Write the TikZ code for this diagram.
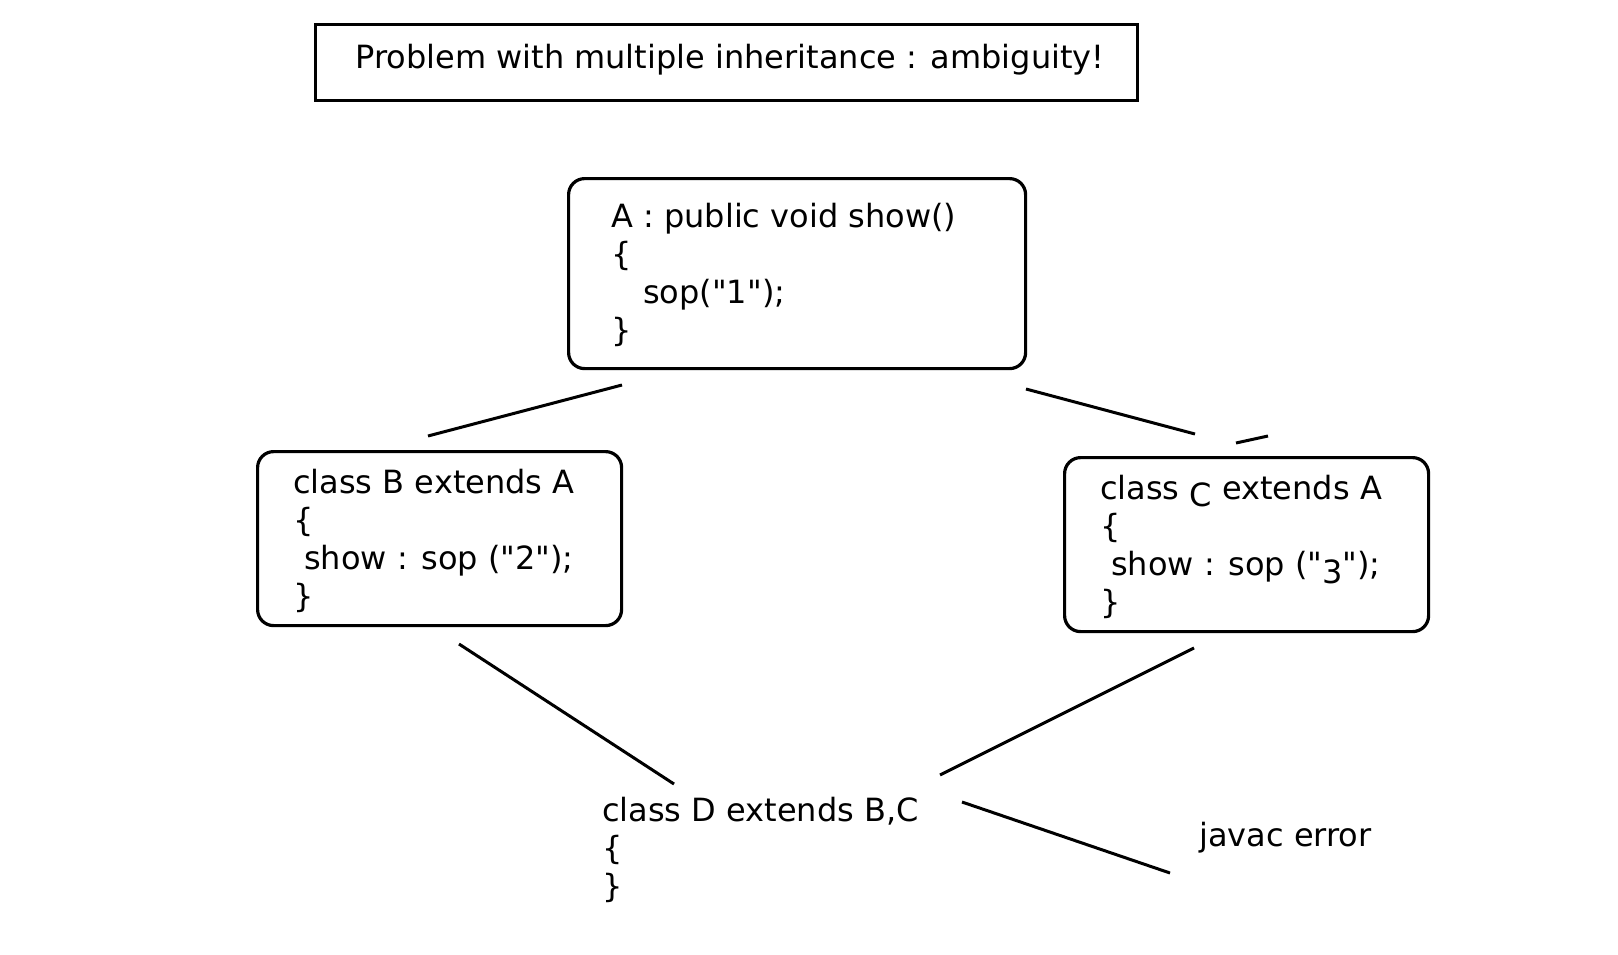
\documentclass[tikz,border=0pt]{standalone}
\usepackage{fontspec}
\setmainfont{DejaVu Sans}[Ligatures=TeXOff]
\begin{document}
\begin{tikzpicture}[x=1pt,y=-1pt,
  titlebox/.style={draw, line width=3.2pt, minimum width=822pt, minimum height=76pt, anchor=north west, inner sep=0pt},
  classbox/.style={draw, line width=3.2pt, rounded corners=16pt, anchor=north west, inner sep=0pt},
  code/.style={font=\fontsize{32}{38}\selectfont, align=left, anchor=base west, inner sep=0pt},
  link/.style={line width=3pt}]
\useasboundingbox (0,0) rectangle (1618,954);
% title
\node[titlebox] (title) at (314,23) {};
\node[code, anchor=center] (titletext) at (730,60) {Problem with multiple inheritance : ambiguity!};
% boxes (text nodes: anchor is the baseline of the last line)
\node[classbox, minimum width=457pt, minimum height=190pt] (A) at (567,177) {};
\node[code] (Atext) at (611,341) {A : public void show()\\\{\\\hspace*{32pt}sop("1");\\\}};
\node[classbox, minimum width=364pt, minimum height=174pt] (B) at (256,450) {};
\node[code] (Btext) at (293,607) {class B extends A\\\{\\\hspace*{11pt}show : sop ("2");\\\}};
\node[classbox, minimum width=364pt, minimum height=174pt] (C) at (1063,456) {};
\node[code] (Ctext) at (1100,613) {class \raisebox{-7pt}{C} extends A\\\{\\\hspace*{11pt}show : sop ("\raisebox{-8pt}{3}");\\\}};
\node[code] (D) at (602,897) {class D extends B,C\\\{\\\}};
\node[code] (err) at (1199,846) {javac error};
% connector end points
\coordinate (a1) at (622,385); \coordinate (b1) at (428,436);
\coordinate (a2) at (1026,389); \coordinate (c1) at (1195,434);
\coordinate (c2) at (1236,443); \coordinate (c3) at (1268,436);
\coordinate (b2) at (459,644); \coordinate (d1) at (674,784);
\coordinate (c4) at (1194,648); \coordinate (d2) at (940,775);
\coordinate (d3) at (962,802); \coordinate (e1) at (1170,873);
\draw[link] (a1) -- (b1);
\draw[link] (a2) -- (c1);
\draw[link] (c2) -- (c3);
\draw[link] (b2) -- (d1);
\draw[link] (c4) -- (d2);
\draw[link] (d3) -- (e1);
\end{tikzpicture}
\end{document}
